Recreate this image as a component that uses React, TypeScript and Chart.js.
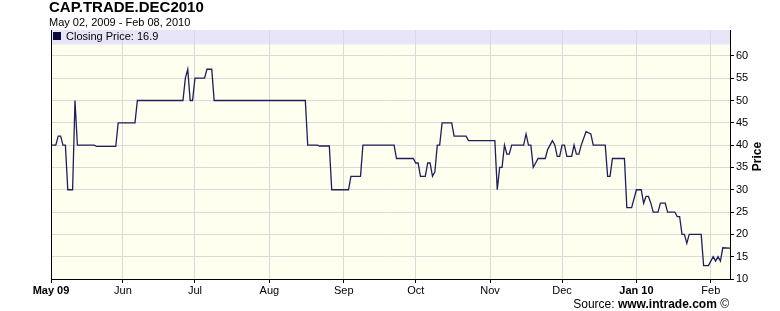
import React, { useEffect, useRef } from "react";
import { Chart, registerables } from "chart.js";
Chart.register(...registerables);

const FONT = '"Liberation Sans", Arial, Helvetica, sans-serif';

const chartTitle = "CAP.TRADE.DEC2010";
const chartSubtitle = "May 02, 2009 - Feb 08, 2010";
const legendLabel = "Closing Price: 16.9";
const yAxisTitle = "Price";
const sourcePrefix = "Source: ";
const sourceSite = "www.intrade.com";
const sourceSuffix = " \u00a9";

// day offsets counted from 2009-05-01
const days = [
  1, 3, 4, 5, 6, 7, 8, 10, 11, 12, 19, 20, 28, 29, 36, 37, 56, 57, 58, 59,
  60, 61, 65, 66, 68, 69, 107, 108, 112, 113, 117, 118, 125, 126, 130, 131, 144, 145, 152, 153,
  154, 155, 157, 158, 159, 160, 161, 162, 163, 164, 168, 169, 174, 175, 186, 187, 188, 189, 190, 191,
  192, 193, 198, 199, 200, 201, 202, 204, 207, 208, 210, 211, 212, 213, 214, 215, 216, 218, 219, 220,
  221, 222, 224, 226, 227, 232, 233, 234, 235, 240, 241, 243, 245, 247, 248, 249, 250, 251, 252, 254,
  255, 257, 258, 261, 262, 263, 264, 265, 266, 267, 272, 273, 275, 277, 278, 279, 280, 281, 284,
];
const prices = [
  40, 40, 42, 42, 40, 40, 30, 30, 50, 40, 40, 39.7, 39.7, 45, 45, 50, 50, 55, 57, 50,
  50, 55, 55, 57, 57, 50, 50, 40, 40, 39.8, 39.8, 30, 30, 33, 33, 40, 40, 37, 37, 36,
  36, 33, 33, 36, 36, 33, 34, 40, 40, 45, 45, 42, 42, 41, 41, 30, 35, 35, 40, 38,
  38, 40, 40, 42.5, 40, 40, 35, 37, 37, 39, 41, 40, 37.5, 37.5, 40, 40, 37.5, 37.5, 40, 38,
  38, 40, 43, 42.5, 40, 40, 33, 33, 37, 37, 26, 26, 30, 30, 27, 28.5, 28.5, 27, 25, 25,
  27, 27, 25, 25, 24, 24, 20, 20, 18, 20, 20, 13, 13, 15, 14, 15, 14, 17, 16.9,
];

const monthTickDays = [1, 31, 61, 92, 123, 153, 184, 214, 245, 276];
const monthTickLabels = ["May 09", "Jun", "Jul", "Aug", "Sep", "Oct", "Nov", "Dec", "Jan 10", "Feb"];
const boldTickLabels = ["May 09", "Jan 10"];
const priceTicks = [10, 15, 20, 25, 30, 35, 40, 45, 50, 55, 60];

const decorPlugin = {
  id: "decor",
  beforeDraw(chart: any) {
    const { ctx, chartArea } = chart;
    const { left, top, right, bottom } = chartArea;
    ctx.save();
    ctx.fillStyle = "#FFFFF0";
    ctx.fillRect(left, top, right - left, bottom - top);
    ctx.fillStyle = "#E6E6F8";
    ctx.fillRect(left, top, right - left, 14.5);
    ctx.restore();
  },
  afterDraw(chart: any) {
    const { ctx, chartArea } = chart;
    const { left, top, right, bottom } = chartArea;
    ctx.save();
    // left axis line
    ctx.strokeStyle = "#000";
    ctx.lineWidth = 1;
    ctx.beginPath();
    ctx.moveTo(Math.round(left) + 0.5, top);
    ctx.lineTo(Math.round(left) + 0.5, bottom + 4);
    ctx.stroke();

    // legend
    ctx.fillStyle = "#0B0B40";
    ctx.fillRect(left + 2, top + 2, 8, 8);
    ctx.fillStyle = "#000";
    ctx.font = `11px ${FONT}`;
    ctx.textAlign = "left";
    ctx.textBaseline = "alphabetic";
    ctx.fillText(legendLabel, left + 15, top + 10);

    // titles
    ctx.font = `bold 15px ${FONT}`;
    ctx.fillText(chartTitle, 49, 12);
    ctx.font = `11px ${FONT}`;
    ctx.fillText(chartSubtitle, 49, 26);

    // source
    const baseY = 308;
    let x = 729;
    ctx.textAlign = "right";
    ctx.font = `12px ${FONT}`;
    ctx.fillText(sourceSuffix, x, baseY);
    x -= ctx.measureText(sourceSuffix).width;
    ctx.font = `bold 12px ${FONT}`;
    ctx.fillText(sourceSite, x, baseY);
    x -= ctx.measureText(sourceSite).width;
    ctx.font = `12px ${FONT}`;
    ctx.fillText(sourcePrefix, x, baseY);

    // y axis title
    ctx.translate(758, (top + bottom) / 2 + 2);
    ctx.rotate(-Math.PI / 2);
    ctx.textAlign = "center";
    ctx.textBaseline = "middle";
    ctx.font = `bold 12px ${FONT}`;
    ctx.fillText(yAxisTitle, 0, 0);
    ctx.restore();
  },
};

export default function App() {
  const ref = useRef<HTMLCanvasElement | null>(null);
  useEffect(() => {
    if (!ref.current) return;
    const data = days.map((d, i) => ({ x: d, y: prices[i] }));
    const chart = new Chart(ref.current, {
      type: "line",
      data: {
        datasets: [
          {
            label: legendLabel,
            data,
            borderColor: "#1E1E5C",
            borderWidth: 1.3,
            pointRadius: 0,
            tension: 0,
            fill: false,
          },
        ],
      },
      options: {
        animation: false,
        responsive: false,
        devicePixelRatio: 1,
        layout: { padding: { left: 51, top: 30, right: 0, bottom: 0 } },
        plugins: { legend: { display: false }, tooltip: { enabled: false }, title: { display: false } },
        scales: {
          x: {
            type: "linear",
            min: 1,
            max: 284,
            afterBuildTicks: (s: any) => {
              s.ticks = monthTickDays.map((v) => ({ value: v }));
            },
            afterFit: (s: any) => {
              s.height = 32;
            },
            ticks: {
              autoSkip: false,
              maxRotation: 0,
              padding: 1,
              color: "#000",
              callback: (_v: any, i: number) => monthTickLabels[i] ?? "",
              font: (c: any) => ({
                family: FONT,
                size: 11,
                weight: boldTickLabels.includes(monthTickLabels[c.index]) ? "bold" : "normal",
              }),
            },
            grid: { color: "#DADADA", tickColor: "#000", tickLength: 4, lineWidth: 1 },
            border: { display: true, color: "#000", width: 1 },
          },
          y: {
            type: "linear",
            position: "right",
            min: 10,
            max: 65.8,
            afterBuildTicks: (s: any) => {
              s.ticks = priceTicks.map((v) => ({ value: v }));
            },
            afterFit: (s: any) => {
              s.width = 50;
            },
            ticks: { padding: 2, color: "#000", font: { family: FONT, size: 11 } },
            grid: { color: "#DADADA", tickColor: "#000", tickLength: 4, lineWidth: 1 },
            border: { display: true, color: "#000", width: 1 },
          },
        },
      },
      plugins: [decorPlugin],
    });
    return () => chart.destroy();
  }, []);
  return (
    <div style={{ position: "absolute", left: 0, top: 0, width: 780, height: 311, background: "#fff" }}>
      <canvas ref={ref} width={780} height={311} style={{ display: "block" }} />
    </div>
  );
}
